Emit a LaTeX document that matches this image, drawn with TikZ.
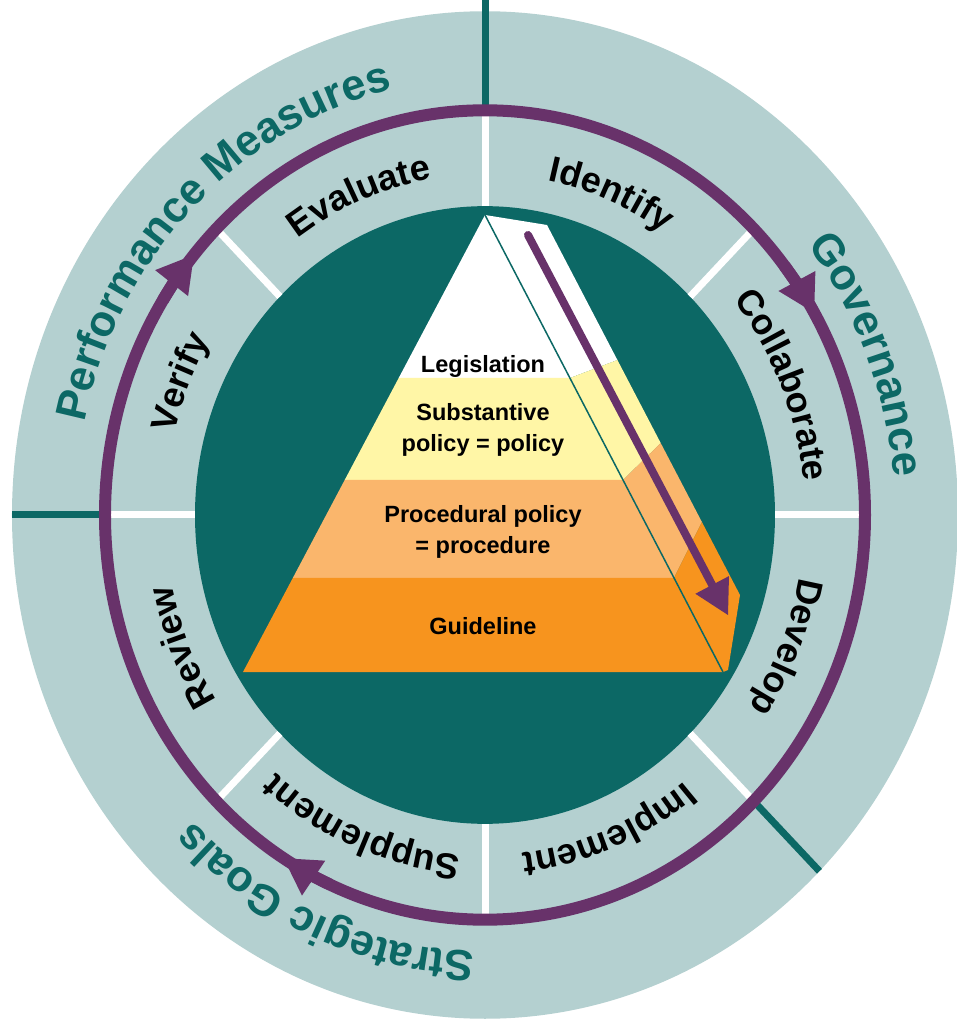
\documentclass[tikz,border=0pt]{standalone}
\usepackage{fontspec}
\setmainfont{Liberation Sans}
\usepackage{tikz}
\usetikzlibrary{arrows.meta,decorations.text}
\definecolor{ringlight}{RGB}{180,208,208}
\definecolor{darkteal}{RGB}{12,104,101}
\definecolor{cyclepurple}{RGB}{104,50,106}
\definecolor{lawyellow}{RGB}{255,246,166}
\definecolor{paleorange}{RGB}{250,182,108}
\definecolor{deeporange}{RGB}{247,148,30}
\newcommand{\stagefont}{\fontsize{36}{40}\selectfont\bfseries}
\newcommand{\goalfont}{\fontsize{43.5}{47}\selectfont\bfseries}
\tikzset{
    whitegap/.style={white,line width=7pt},
    divider/.style={darkteal,line width=7pt},
    ringline/.style={cyclepurple,line width=12pt},
    ringarrow/.style={ringline,-{Triangle[length=36pt,width=42pt,line width=0pt]}},
    flow/.style={cyclepurple,line width=8pt,line cap=round,-{Triangle[length=34pt,width=38pt,line width=0pt]}},
    tier/.style={font=\fontsize{23.5}{31}\selectfont\bfseries,align=center,inner sep=0pt},
    stage/.style={decorate,decoration={text along path,text align=center,text color=black,text={|\stagefont|#1}}},
    goal/.style={decorate,decoration={text along path,text align=center,text color=darkteal,text={|\goalfont|#1}}}
}

\begin{document}
\begin{tikzpicture}[x=1pt,y=1pt]
\useasboundingbox (-485,-504) rectangle (471,515);
\begin{scope}[yscale=1.065]
\fill[ringlight] (0,0) circle[radius=473pt];
\fill[darkteal] (0,0) circle[radius=290pt];
\foreach \a in {0,45,...,315}
    \draw[whitegap] (\a:290pt) -- (\a:380pt);
\draw[divider] (90:380pt) -- (90:484pt);
\draw[divider] (180:380pt) -- (180:473pt);
\draw[divider] (-45:380pt) -- (-45:473pt);
\draw[ringline] (0,0) circle[radius=380pt];
\foreach \a/\b in {38/30,148/140,246/238}
    \draw[ringarrow] (\a:380pt) arc[start angle=\a,end angle=\b,radius=380pt];

% stages
\path[stage=Identify] (90:320pt) arc[start angle=90,end angle=45,radius=320pt];
\path[stage=Collaborate] (45:320pt) arc[start angle=45,end angle=0,radius=320pt];
\path[stage=Develop] (0:320pt) arc[start angle=0,end angle=-45,radius=320pt];
\path[stage=Implement] (-45:320pt) arc[start angle=-45,end angle=-90,radius=320pt];
\path[stage=Supplement] (-90:320pt) arc[start angle=-90,end angle=-135,radius=320pt];
\path[stage=Review] (-135:320pt) arc[start angle=-135,end angle=-180,radius=320pt];
\path[stage=Verify] (180:320pt) arc[start angle=180,end angle=135,radius=320pt];
\path[stage=Evaluate] (135:320pt) arc[start angle=135,end angle=90,radius=320pt];

% goals
\path[goal=Performance Measures] (180:410pt) arc[start angle=180,end angle=90,radius=410pt];
\path[goal=Governance] (90:410pt) arc[start angle=90,end angle=-45,radius=410pt];
\path[goal=Strategic Goals] (-45:410pt) arc[start angle=-45,end angle=-180,radius=410pt];
\end{scope}

\coordinate (peak) at (0,300);
\coordinate (rim) at (62,290);
\coordinate (flank) at (255,-80);
\coordinate (heel) at (243,-155);
\coordinate (baseR) at (238,-157);
\coordinate (baseL) at (-242,-157);
\coordinate (l1) at (-86.3,137);
\coordinate (r1) at (84.9,137);
\coordinate (s1) at (132.4,155);
\coordinate (l2) at (-140.3,35);
\coordinate (r2) at (138,35);
\coordinate (s2) at (175.7,72);
\coordinate (l3) at (-192.2,-63);
\coordinate (r3) at (189,-63);
\coordinate (s3) at (216.9,-7);

\fill[white] (peak) -- (rim) -- (s1) -- (r1) -- (l1) -- cycle;
\fill[lawyellow] (l1) -- (r1) -- (s1) -- (s2) -- (r2) -- (l2) -- cycle;
\fill[paleorange] (l2) -- (r2) -- (s2) -- (s3) -- (r3) -- (l3) -- cycle;
\fill[deeporange] (l3) -- (r3) -- (s3) -- (flank) -- (heel) -- (baseR) -- (baseL) -- cycle;
\draw[darkteal,line width=1.5pt] (peak) -- (baseR);

\coordinate (flowtop) at (43,280);
\coordinate (flowtip) at (243,-100);
\draw[flow] (flowtop) -- (flowtip);

\node[tier] (legis) at (-2,149) {Legislation};
\node[tier] (subst) at (-2,85) {Substantive\\policy = policy};
\node[tier] (proc) at (-2,-17) {Procedural policy\\= procedure};
\node[tier] (guide) at (-2,-111) {Guideline};
\end{tikzpicture}
\end{document}
